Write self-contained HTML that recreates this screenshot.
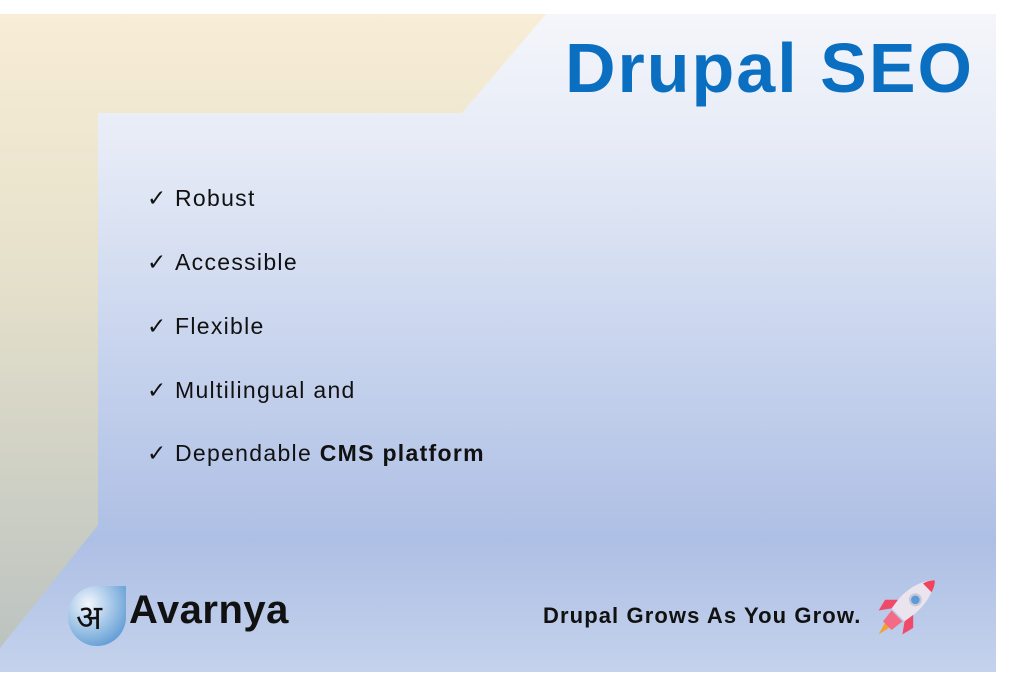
<!DOCTYPE html>
<html><head><meta charset="utf-8"><style>
html,body{margin:0;padding:0;width:1024px;height:682px;background:#fff;overflow:hidden;font-family:"Liberation Sans","DejaVu Sans",sans-serif}
.card{position:absolute;left:0;top:14px;width:996px;height:658px;background:linear-gradient(180deg,#f5f6fb 0%,#e6ebf6 20%,#c9d5ee 50%,#aebfe5 80%,#c4d2ec 100%)}
svg.tan{position:absolute;left:0;top:14px}
h1{position:absolute;left:565px;top:28px;margin:0;font-size:70px;font-weight:bold;color:#0b6fc1;letter-spacing:2px}
.item{position:absolute;left:147px;font-size:23px;color:#111;letter-spacing:1.3px}
.item span{display:inline-block;width:28px;letter-spacing:0}
.tag{position:absolute;left:543px;top:603px;font-size:22px;font-weight:bold;color:#111;letter-spacing:1.1px}
.logo{position:absolute;left:129px;top:588px;font-size:40px;font-weight:bold;color:#111;letter-spacing:0.5px}
</style></head><body>
<div class="card"></div>
<svg class="tan" width="560" height="640">
<defs><linearGradient id="g" x1="0" y1="0" x2="0" y2="1"><stop offset="0" stop-color="#f8edd6"/><stop offset="0.4" stop-color="#e6e1cb"/><stop offset="1" stop-color="#bcc3c0"/></linearGradient></defs>
<polygon points="0,0 546,0 462,99 98,99 98,511 0,634" fill="url(#g)"/>
</svg>
<h1>Drupal SEO</h1>
<div class="item" style="top:185px"><span>✓</span>Robust</div>
<div class="item" style="top:249px"><span>✓</span>Accessible</div>
<div class="item" style="top:313px"><span>✓</span>Flexible</div>
<div class="item" style="top:377px"><span>✓</span>Multilingual and</div>
<div class="item" style="top:440px"><span>✓</span>Dependable <b>CMS platform</b></div>
<svg style="position:absolute;left:64px;top:582px" width="66" height="66">
<defs><radialGradient id="b" cx="0.35" cy="0.3" r="0.8"><stop offset="0" stop-color="#f2f7fd"/><stop offset="1" stop-color="#5a98d3"/></radialGradient></defs>
<path d="M4,34 A29,29 0 0 0 33,64 A29,29 0 0 0 62,34 L62,4 L34,4 A29,29 0 0 0 4,34Z" fill="url(#b)"/>
<text x="12" y="47" font-size="34" font-family="'Noto Sans CJK SC','DejaVu Sans',sans-serif" fill="#111">अ</text>
</svg>
<div class="logo">Avarnya</div>
<div class="tag">Drupal Grows As You Grow.</div>
<svg style="position:absolute;left:874px;top:576px" width="66" height="64" viewBox="0 0 66 64">
<g transform="translate(-4,0) scale(1.08)">
<path d="M60,4 C45,4 30,14 20,30 L32,42 C48,32 58,18 60,4Z" fill="#e9e4ee"/>
<path d="M60,4 C56,4 52,5 49,7 L57,15 C59,11 60,8 60,4Z" fill="#f0435e"/>
<circle cx="42" cy="22" r="5" fill="#5b9bd8" stroke="#c8c8d8" stroke-width="2"/>
<path d="M20,30 L8,32 L14,22 L26,22Z" fill="#ef4a6a"/>
<path d="M32,42 L30,54 L40,48 L40,36Z" fill="#ef4a6a"/>
<path d="M18,36 L8,54 L24,44Z" fill="#f5a030"/>
<path d="M20,32 L30,42 L20,50 L12,42Z" fill="#f46b86"/>
</g>
</svg>
</body></html>
